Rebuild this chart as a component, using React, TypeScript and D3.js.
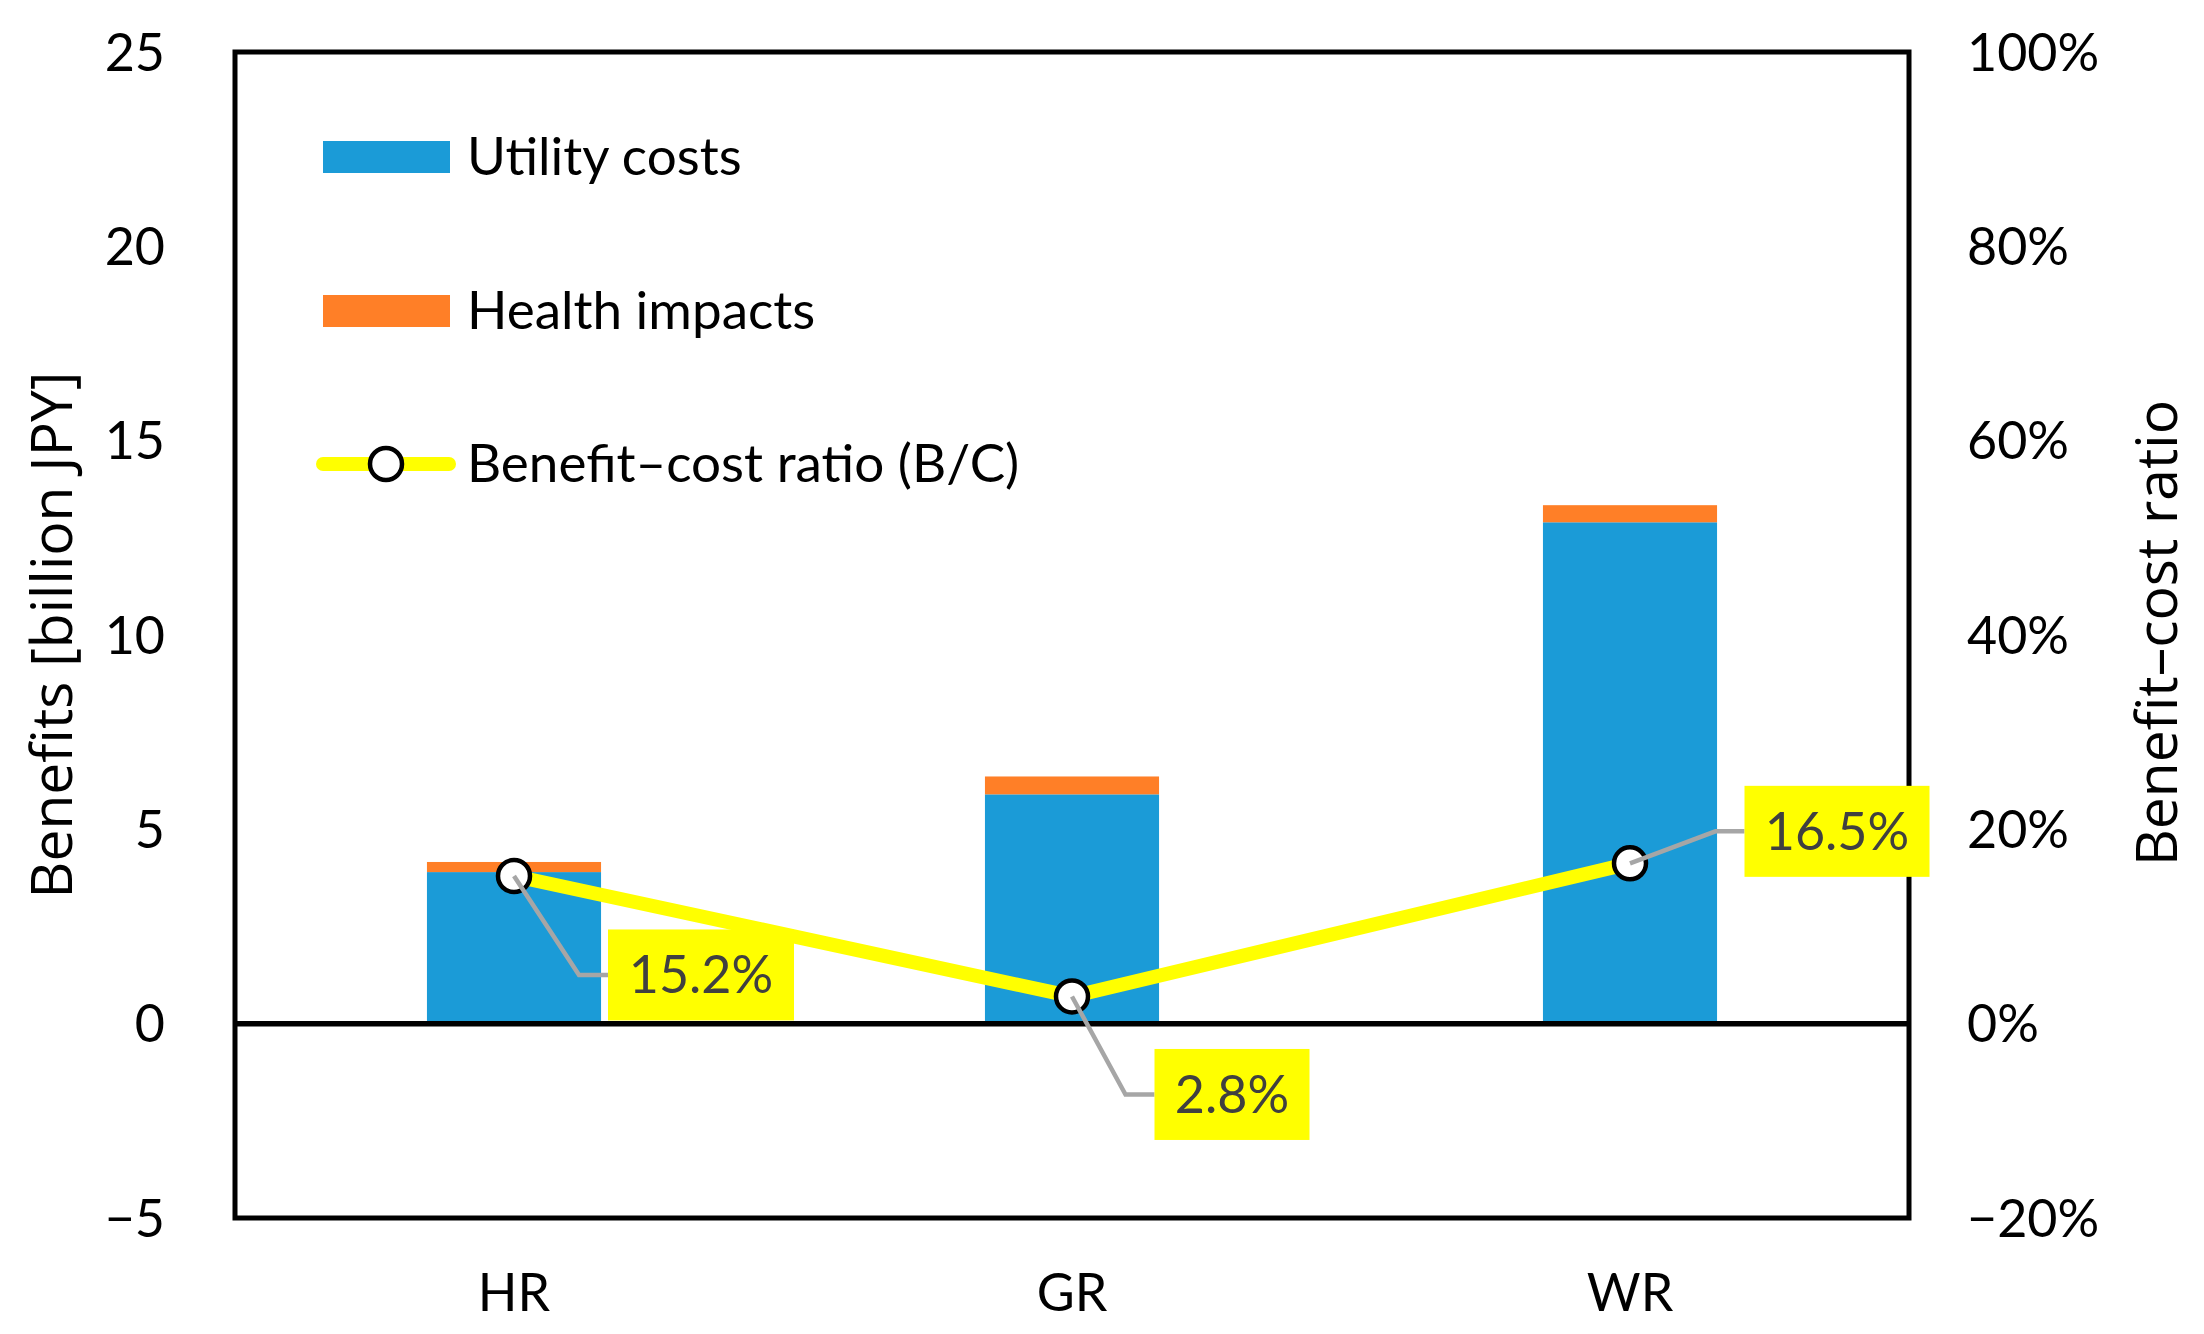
import * as d3 from 'd3'

const categories = ['HR', 'GR', 'WR']
const utilityCosts = [3.9, 5.9, 12.9]
const healthImpacts = [0.26, 0.46, 0.44]
const bcRatio = [0.152, 0.028, 0.165]
const leftTicks = [-5, 0, 5, 10, 15, 20, 25]
const rightTicks = [-0.2, 0, 0.2, 0.4, 0.6, 0.8, 1.0]

const W = 2204
const H = 1334
const plot = { left: 235, right: 1909, top: 52, bottom: 1218 }

const blue = '#1B9BD7'
const orange = '#FF7F27'
const yellow = '#FFFF00'
const calibri = 'Lato, "Open Sans", sans-serif'
const titleFont = '"Open Sans", sans-serif'

// label box placement relative to each marker
const labelLayout = [
  { dx: 187, dy: 99, w: 186 },
  { dx: 160, dy: 98, w: 155 },
  { dx: 207, dy: -32, w: 185 },
]

export default function App() {
  const x = d3.scaleBand<string>()
    .domain(categories)
    .range([plot.left, plot.right])
    .paddingInner(0.688)
    .paddingOuter(0.344)

  const y = d3.scaleLinear().domain([-5, 25]).range([plot.bottom, plot.top])
  const y2 = d3.scaleLinear().domain([-0.2, 1.0]).range([plot.bottom, plot.top])

  const cx = (c: string) => (x(c) ?? 0) + x.bandwidth() / 2

  const line = d3.line<number>()
    .x((_, i) => cx(categories[i]))
    .y(d => y2(d))

  const pct = d3.format('.0%')
  const minus = (s: string) => s.replace('-', '\u2212')

  return (
    <svg width={W} height={H} style={{ position: 'absolute', left: 0, top: 0, background: '#fff' }}>
      {/* bars */}
      {categories.map((c, i) => (
        <g key={c}>
          <rect x={x(c)} width={x.bandwidth()} y={y(utilityCosts[i])}
            height={y(0) - y(utilityCosts[i])} fill={blue} />
          <rect x={x(c)} width={x.bandwidth()} y={y(utilityCosts[i] + healthImpacts[i])}
            height={y(utilityCosts[i]) - y(utilityCosts[i] + healthImpacts[i])} fill={orange} />
        </g>
      ))}

      {/* zero line and frame */}
      <line x1={plot.left} x2={plot.right} y1={y(0)} y2={y(0)} stroke="#000" strokeWidth={5.5} />
      <rect x={plot.left} y={plot.top} width={plot.right - plot.left} height={plot.bottom - plot.top}
        fill="none" stroke="#000" strokeWidth={5} />

      {/* left ticks */}
      {leftTicks.map(t => (
        <text key={t} x={165} y={y(t) + 18.5} textAnchor="end" fontFamily={calibri} fontSize={52}>
          {minus(String(t))}
        </text>
      ))}
      {/* right ticks */}
      {rightTicks.map(t => (
        <text key={t} x={1967} y={y2(t) + 18.5} textAnchor="start" fontFamily={calibri} fontSize={52}>
          {minus(pct(t))}
        </text>
      ))}
      {/* category labels */}
      {categories.map(c => (
        <text key={c} x={cx(c)} y={1311} textAnchor="middle" fontFamily={calibri} fontSize={52}>{c}</text>
      ))}

      {/* axis titles */}
      <text transform={`translate(72,635) rotate(-90)`} textAnchor="middle" fontFamily={titleFont} fontSize={57}>
        Benefits [billion JPY]
      </text>
      <text transform={`translate(2177,633) rotate(-90)`} textAnchor="middle" fontFamily={titleFont} fontSize={57}>
        Benefit–cost ratio
      </text>

      {/* B/C line */}
      <path d={line(bcRatio) ?? ''} fill="none" stroke={yellow} strokeWidth={14} strokeLinejoin="round" />
      {bcRatio.map((v, i) => (
        <circle key={i} cx={cx(categories[i])} cy={y2(v)} r={16} fill="#fff" stroke="#000" strokeWidth={4.5} />
      ))}

      {/* data labels with leaders */}
      {bcRatio.map((v, i) => {
        const px = cx(categories[i])
        const py = y2(v)
        const L = labelLayout[i]
        const bx = px + L.dx
        const by = py + L.dy
        const left = bx - L.w / 2
        return (
          <g key={i}>
            <polyline points={`${px},${py} ${left - 29},${by} ${left},${by}`}
              fill="none" stroke="#A6A6A6" strokeWidth={4.5} />
            <rect x={left} y={by - 45.5} width={L.w} height={91} fill={yellow} />
            <text x={bx} y={by + 18.5} textAnchor="middle" fontFamily={calibri} fontSize={52} fill="#404040">
              {d3.format('.1%')(v)}
            </text>
          </g>
        )
      })}

      {/* legend */}
      <g fontFamily={calibri} fontSize={53}>
        <rect x={323} y={141} width={127} height={32} fill={blue} />
        <text x={467} y={175}>Utility costs</text>
        <rect x={323} y={295} width={127} height={32} fill={orange} />
        <text x={467} y={329}>Health impacts</text>
        <line x1={323} x2={449} y1={464} y2={464} stroke={yellow} strokeWidth={14} strokeLinecap="round" />
        <circle cx={386} cy={464} r={16} fill="#fff" stroke="#000" strokeWidth={4.5} />
        <text x={467} y={482}>Benefit–cost ratio (B/C)</text>
      </g>
    </svg>
  )
}
